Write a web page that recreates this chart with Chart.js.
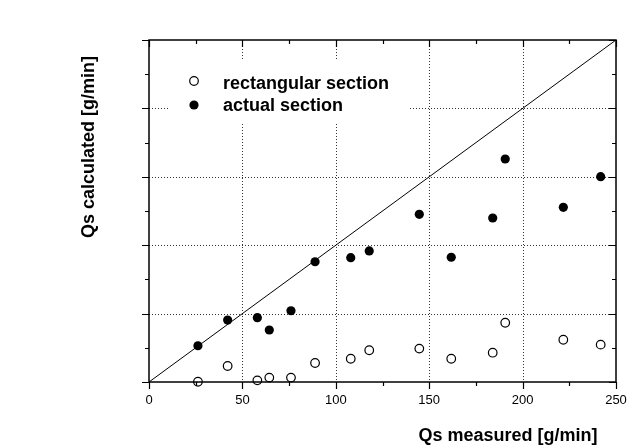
<!DOCTYPE html>
<html>
<head>
<meta charset="utf-8">
<script src="https://cdn.jsdelivr.net/npm/chart.js@4.4.0/dist/chart.umd.min.js"></script>
<style>
body{margin:0;background:#fff;}
canvas{display:block;}
</style>
</head>
<body>
<canvas id="myChart" width="640" height="446"></canvas>
<script>
// values
var measured = [26.2, 42.1, 58.0, 64.4, 76.0, 88.9, 108.0, 117.9, 144.7, 161.8, 184.0, 190.7, 221.8, 241.8];
var actualSection = [26.5, 45.3, 47.0, 38.0, 52.1, 87.9, 90.9, 95.8, 122.6, 91.2, 119.9, 163.0, 127.7, 150.1];
var rectSection = [0.2, 11.7, 1.2, 3.2, 3.2, 13.9, 17.0, 23.2, 24.4, 17.0, 21.4, 43.3, 30.9, 27.3];
var axisMin = 0;
var axisMax = 250;
var majorStep = 50;
var minorStep = 25;
var legendLabels = ["rectangular section", "actual section"];
var xTitle = "Qs measured [g/min]";
var yTitle = "Qs calculated [g/min]";

var font = "'Liberation Sans', Arial, sans-serif";

function pts(xs, ys) {
  var out = [];
  for (var i = 0; i < xs.length; i++) out.push({x: xs[i], y: ys[i]});
  return out;
}

var frame = {
  id: 'frame',
  beforeDatasetsDraw: function(chart) {
    var ctx = chart.ctx, a = chart.chartArea, sx = chart.scales.x, sy = chart.scales.y;
    ctx.save();
    ctx.strokeStyle = '#333';
    ctx.lineWidth = 1;
    ctx.setLineDash([1, 2]);
    for (var v = axisMin + majorStep; v < axisMax; v += majorStep) {
      var px = Math.round(sx.getPixelForValue(v)) + 0.5;
      ctx.beginPath(); ctx.moveTo(px, a.top); ctx.lineTo(px, a.bottom); ctx.stroke();
      var py = Math.round(sy.getPixelForValue(v)) + 0.5;
      ctx.beginPath(); ctx.moveTo(a.left, py); ctx.lineTo(a.right, py); ctx.stroke();
    }
    ctx.setLineDash([]);
    // white legend box hides the grid behind it
    ctx.fillStyle = '#fff';
    ctx.fillRect(a.left + 21, a.top + 20, 240, 63);
    ctx.restore();
  },
  afterDraw: function(chart) {
    var ctx = chart.ctx, a = chart.chartArea, sx = chart.scales.x, sy = chart.scales.y;
    ctx.save();
    ctx.strokeStyle = '#000';
    ctx.lineWidth = 1.5;
    ctx.strokeRect(a.left, a.top, a.right - a.left, a.bottom - a.top);
    ctx.lineWidth = 1.2;
    for (var v = axisMin; v <= axisMax; v += minorStep) {
      var len = (v % majorStep === 0) ? 7 : 4;
      var px = Math.round(sx.getPixelForValue(v)) + 0.5;
      var py = Math.round(sy.getPixelForValue(v)) + 0.5;
      ctx.beginPath();
      ctx.moveTo(px, a.bottom); ctx.lineTo(px, a.bottom + len);   // bottom, outward
      ctx.moveTo(px, a.top); ctx.lineTo(px, a.top + len);         // top, inward
      ctx.moveTo(a.left, py); ctx.lineTo(a.left - len, py);       // left, outward
      ctx.moveTo(a.right, py); ctx.lineTo(a.right - len, py);     // right, inward
      ctx.stroke();
    }

    // legend
    var lx = a.left + 45;
    ctx.lineWidth = 1.2;
    ctx.fillStyle = '#fff';
    ctx.beginPath(); ctx.arc(lx, a.top + 41, 4.3, 0, Math.PI * 2); ctx.fill(); ctx.stroke();
    ctx.fillStyle = '#000';
    ctx.beginPath(); ctx.arc(lx, a.top + 65, 4.6, 0, Math.PI * 2); ctx.fill();
    ctx.font = 'bold 18px ' + font;
    ctx.textBaseline = 'alphabetic';
    ctx.textAlign = 'left';
    ctx.fillText(legendLabels[0], a.left + 74, a.top + 48.5);
    ctx.fillText(legendLabels[1], a.left + 74, a.top + 71);

    // axis titles
    ctx.textAlign = 'center';
    ctx.fillText(xTitle, 508, 441);
    ctx.translate(94, 147);
    ctx.rotate(-Math.PI / 2);
    ctx.fillText(yTitle, 0, 0);
    ctx.restore();
  }
};

new Chart("myChart", {
  type: "scatter",
  data: {
    datasets: [{
      type: "line",
      data: [{x: axisMin, y: axisMin}, {x: axisMax, y: axisMax}],
      borderColor: "#000",
      borderWidth: 1,
      pointRadius: 0,
      fill: false,
      clip: false
    }, {
      label: legendLabels[0],
      data: pts(measured, rectSection),
      pointRadius: 4.3,
      pointBorderWidth: 1.2,
      pointBackgroundColor: "#fff",
      pointBorderColor: "#000",
      clip: false
    }, {
      label: legendLabels[1],
      data: pts(measured, actualSection),
      pointRadius: 4.6,
      pointBorderWidth: 0,
      pointBackgroundColor: "#000",
      pointBorderColor: "#000",
      clip: false
    }]
  },
  options: {
    responsive: false,
    animation: false,
    layout: {padding: {left: 0, top: 40, right: 24, bottom: 0}},
    plugins: {legend: {display: false}, tooltip: {enabled: false}},
    scales: {
      x: {
        type: "linear",
        min: axisMin,
        max: axisMax,
        grid: {display: false, drawTicks: false},
        border: {display: false},
        ticks: {stepSize: majorStep, padding: 11, color: "#000", font: {family: font, size: 13}},
        afterFit: function(s) { s.height = 64; }
      },
      y: {
        type: "linear",
        min: axisMin,
        max: axisMax,
        grid: {display: false, drawTicks: false},
        border: {display: false},
        ticks: {display: false, stepSize: majorStep},
        afterFit: function(s) { s.width = 149; }
      }
    }
  },
  plugins: [frame]
});
</script>
</body>
</html>
